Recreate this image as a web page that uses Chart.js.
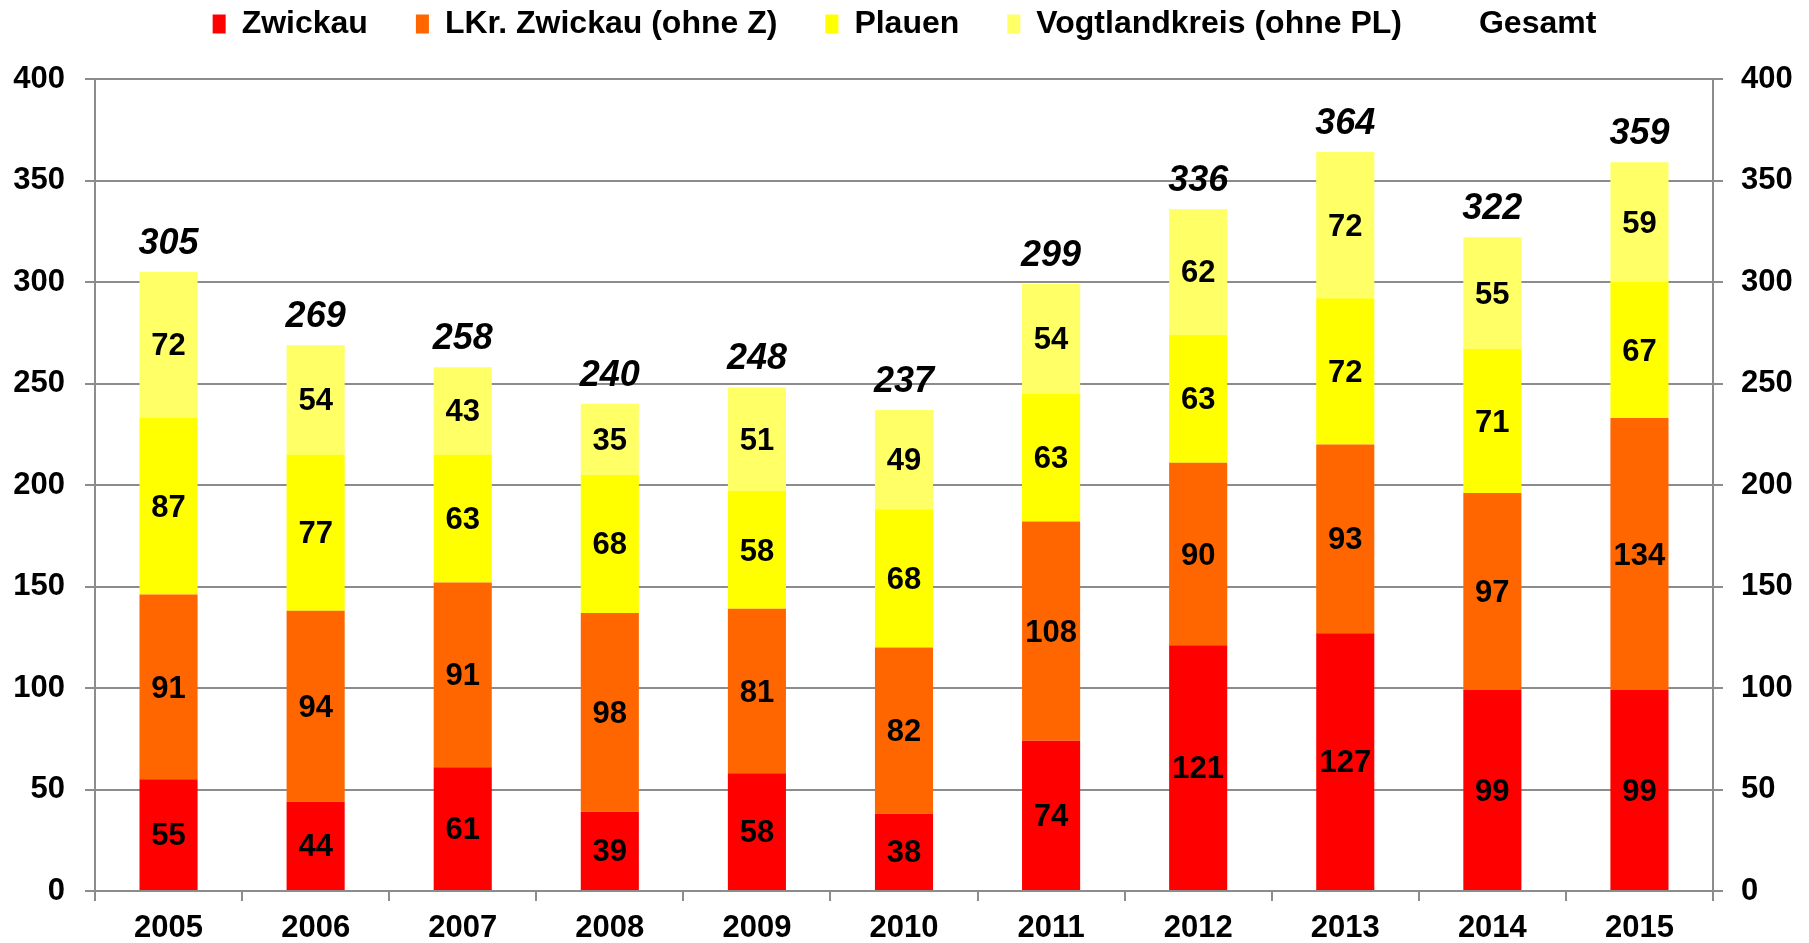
<!DOCTYPE html>
<html lang="de">
<head>
<meta charset="UTF-8" />
<title>Zwickau / Vogtland 2005-2015</title>
<script src="https://cdn.jsdelivr.net/npm/chart.js@4.4.0/dist/chart.umd.min.js"></script>
<style>
  html, body { margin: 0; padding: 0; background: #fff; }
</style>
</head>
<body>
<canvas id="chart" width="1809" height="943"></canvas>
<script>
// values
const years = ['2005', '2006', '2007', '2008', '2009', '2010', '2011', '2012', '2013', '2014', '2015'];
const zwickau = [55, 44, 61, 39, 58, 38, 74, 121, 127, 99, 99];
const lkrZwickau = [91, 94, 91, 98, 81, 82, 108, 90, 93, 97, 134];
const plauen = [87, 77, 63, 68, 58, 68, 63, 63, 72, 71, 67];
const vogtland = [72, 54, 43, 35, 51, 49, 54, 62, 72, 55, 59];
const gesamt = [305, 269, 258, 240, 248, 237, 299, 336, 364, 322, 359];
const yTicks = [0, 50, 100, 150, 200, 250, 300, 350, 400];

const FONT = '"Liberation Sans", Arial, sans-serif';
const GRID = '#8c8c8c';

// numbers inside the segments and totals above the bars
const valueLabels = {
  id: 'valueLabels',
  afterDatasetsDraw(chart) {
    const ctx = chart.ctx;
    ctx.save();
    ctx.textAlign = 'center';
    ctx.textBaseline = 'middle';
    ctx.fillStyle = '#000';
    chart.data.datasets.forEach((ds, i) => {
      const meta = chart.getDatasetMeta(i);
      meta.data.forEach((el, j) => {
        const v = ds.data[j];
        if (ds.type === 'line') {
          ctx.font = 'italic bold 36px ' + FONT;
          ctx.fillText(v, el.x, el.y - 28);
        } else {
          const p = el.getProps(['x', 'y', 'base'], true);
          ctx.font = 'bold 31px ' + FONT;
          ctx.fillText(v, p.x, (p.y + p.base) / 2 + 2);
        }
      });
    });
    ctx.restore();
  }
};

// legend uses a wide item gap, but should not take that much height
const legendHeight = {
  id: 'legendHeight',
  beforeLayout(chart) {
    const lg = chart.legend;
    if (lg && !lg._fixed) {
      const fit = lg.fit;
      lg.fit = function () {
        fit.call(this);
        this.height = 119;
      };
      lg._fixed = true;
    }
  }
};

const ctx = document.getElementById('chart').getContext('2d');
new Chart(ctx, {
  data: {
    labels: years,
    datasets: [
      { type: 'bar', label: 'Zwickau', data: zwickau, backgroundColor: '#ff0000', borderWidth: 0 },
      { type: 'bar', label: 'LKr. Zwickau (ohne Z)', data: lkrZwickau, backgroundColor: '#ff6600', borderWidth: 0 },
      { type: 'bar', label: 'Plauen', data: plauen, backgroundColor: '#ffff00', borderWidth: 0 },
      { type: 'bar', label: 'Vogtlandkreis (ohne PL)', data: vogtland, backgroundColor: '#ffff66', borderWidth: 0 },
      {
        type: 'line', label: 'Gesamt', data: gesamt, stack: 'total',
        showLine: false, pointRadius: 0,
        backgroundColor: 'rgba(0,0,0,0)', borderColor: 'rgba(0,0,0,0)', borderWidth: 0
      }
    ]
  },
  options: {
    responsive: false,
    animation: false,
    layout: { padding: { top: -40, left: 0, right: 0, bottom: 0 } },
    datasets: { bar: { categoryPercentage: 1, barPercentage: 0.395 } },
    plugins: {
      tooltip: { enabled: false },
      legend: {
        position: 'top',
        labels: {
          color: '#000',
          font: { family: FONT, size: 32, weight: 'bold' },
          boxWidth: 13,
          boxHeight: 19,
          padding: 48
        }
      }
    },
    scales: {
      x: {
        stacked: true,
        grid: { display: true, offset: true, drawOnChartArea: false, color: GRID, lineWidth: 2, tickLength: 10 },
        border: { color: GRID, width: 2 },
        ticks: { color: '#000', padding: 9, font: { family: FONT, size: 31, weight: 'bold' } },
        afterFit(scale) { scale.height = 52; }
      },
      y: {
        stacked: true,
        position: 'left',
        min: 0,
        max: 400,
        afterBuildTicks(scale) { scale.ticks = yTicks.map(v => ({ value: v })); },
        grid: { color: GRID, lineWidth: 2, tickLength: 10 },
        border: { color: GRID, width: 2 },
        ticks: { color: '#000', padding: 20, font: { family: FONT, size: 31, weight: 'bold' } },
        afterFit(scale) { scale.width = 95; }
      },
      y2: {
        position: 'right',
        min: 0,
        max: 400,
        afterBuildTicks(scale) { scale.ticks = yTicks.map(v => ({ value: v })); },
        grid: { drawOnChartArea: false, color: GRID, lineWidth: 2, tickLength: 10 },
        border: { color: GRID, width: 2 },
        ticks: { color: '#000', padding: 18, font: { family: FONT, size: 31, weight: 'bold' } },
        afterFit(scale) { scale.width = 96; }
      }
    }
  },
  plugins: [valueLabels, legendHeight]
});
</script>
</body>
</html>
